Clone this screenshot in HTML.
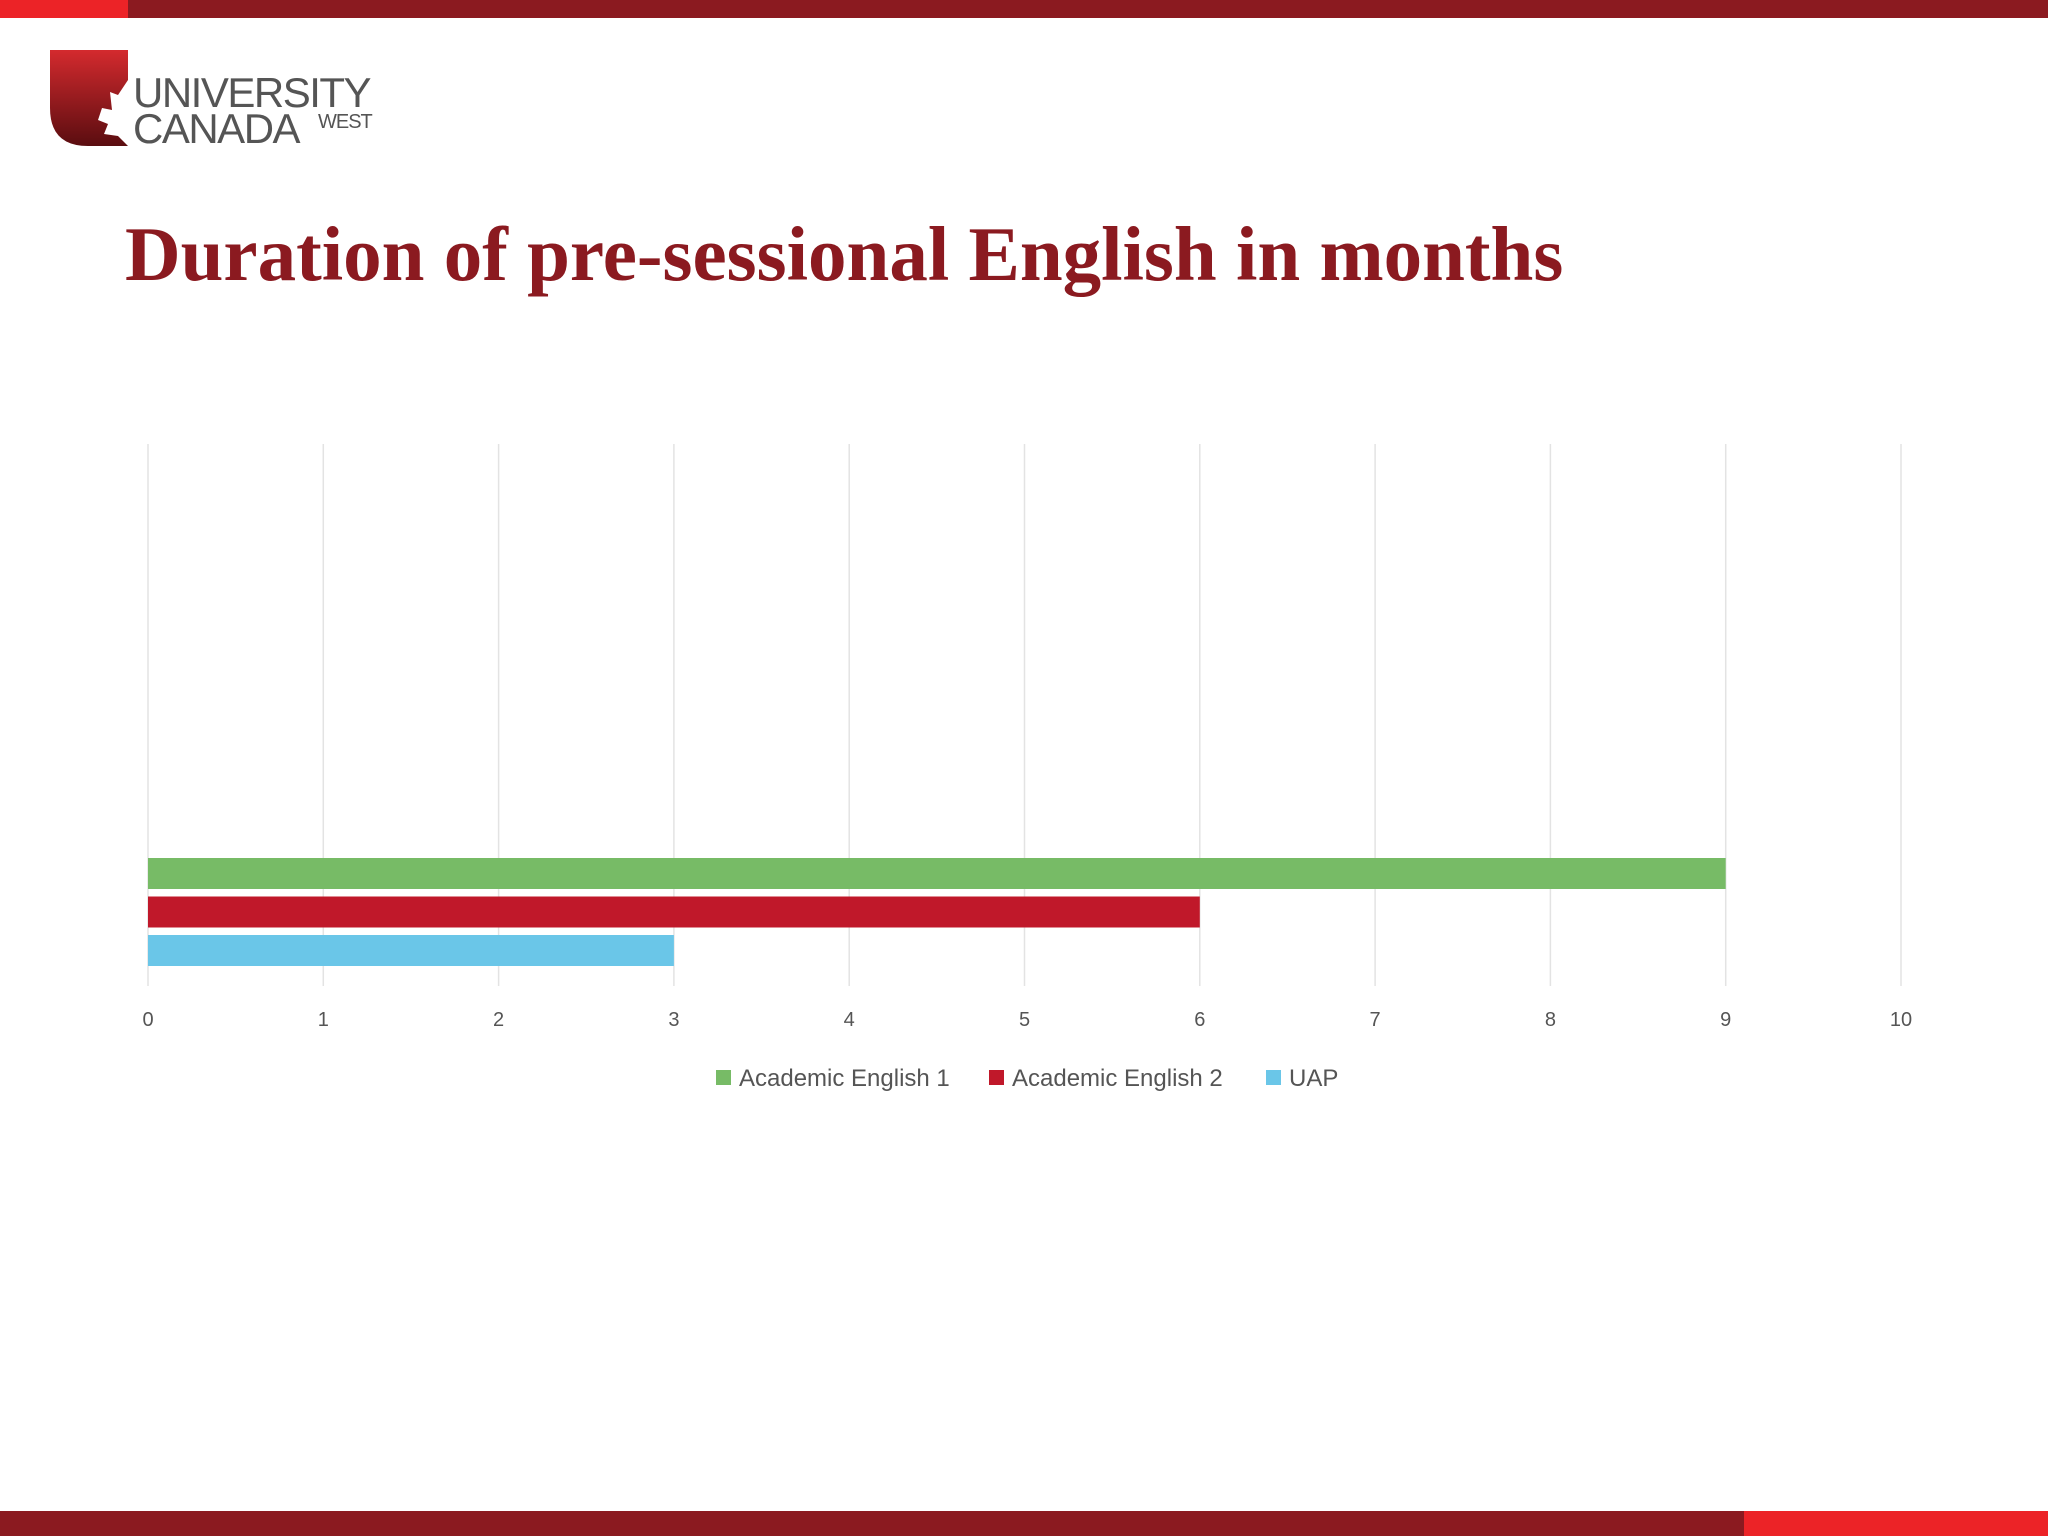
<!DOCTYPE html>
<html><head><meta charset="utf-8"><style>
body{margin:0;width:2048px;height:1536px;background:#fff;position:relative;overflow:hidden;font-family:"Liberation Sans",sans-serif}
.a{position:absolute}
</style></head><body>
<div class="a" style="left:0;top:0;width:2048px;height:18px;background:#8b1a20"></div>
<div class="a" style="left:0;top:0;width:128px;height:18px;background:#ec2327"></div>
<div class="a" style="left:0;top:1511px;width:2048px;height:25px;background:#8b1a20"></div>
<div class="a" style="left:1744px;top:1511px;width:304px;height:25px;background:#ec2327"></div>
<div>
<svg class="a" style="left:48px;top:50px" width="82" height="96">
<defs><linearGradient id="g" x1="0" y1="0" x2="0" y2="1"><stop offset="0" stop-color="#d42a2e"/><stop offset="1" stop-color="#5a0d10"/></linearGradient></defs>
<path d="M2 0H80V96H40Q2 96 2 58Z" fill="url(#g)"/>
<path d="M80 30L70 45L62 42L64 60L54 58L50 70L60 74L56 84L70 86L80 96Z" fill="#fff"/>
</svg>
<div class="a" style="left:133px;top:72px;font-size:42px;color:#555;letter-spacing:-1.5px;line-height:42px">UNIVERSITY</div>
<div class="a" style="left:133px;top:108px;font-size:42px;color:#555;letter-spacing:-1.5px;line-height:42px">CANADA</div>
<div class="a" style="left:318px;top:112px;font-size:20px;color:#555;line-height:20px;letter-spacing:-1px">WEST</div>
</div>
<div class="a" style="left:125px;top:208px;font-family:'Liberation Serif',serif;font-weight:bold;font-size:77px;color:#8b1a20;line-height:92px;white-space:nowrap">Duration of pre-sessional English in months</div>
<svg class="a" style="left:0;top:0" width="2048" height="1536" id="chart"></svg>
<script>
const ticks=[0,1,2,3,4,5,6,7,8,9,10];
const series=["Academic English 1","Academic English 2","UAP"];
const values=[9,6,3];
const colors=["#77bb66","#c0182a","#6ac6e8"];
const svg=document.getElementById('chart');
const NS='http://www.w3.org/2000/svg';
const x=v=>148+v*175.3;
const barY=i=>858+i*38.5;
function mk(t,a){const e=document.createElementNS(NS,t);for(const k in a)e.setAttribute(k,a[k]);svg.appendChild(e);return e;}
ticks.forEach(t=>{
 const l=mk('line',{x1:x(t),x2:x(t),y1:444,y2:986,stroke:'#e3e3e3','stroke-width':1.5});
 
 
 const tx=mk('text',{x:x(t),y:1026,'text-anchor':'middle','font-size':20,fill:'#555','font-family':'Liberation Sans, sans-serif'});
 tx.textContent=t;
 
 
});
values.forEach((v,i)=>{
 const r=mk('rect',{x:x(0),y:barY(i),width:x(v)-x(0),height:31,fill:colors[i]});
 
 
});
const lx=[716,989,1266];
series.forEach((s,i)=>{
 const r=mk('rect',{x:lx[i],y:1070,width:15,height:15,fill:colors[i]});
 
 
 const t=mk('text',{x:lx[i]+23,y:1086,'font-size':24,fill:'#555','font-family':'Liberation Sans, sans-serif'});
 t.textContent=s;
 
 
});
</script>
</body></html>
